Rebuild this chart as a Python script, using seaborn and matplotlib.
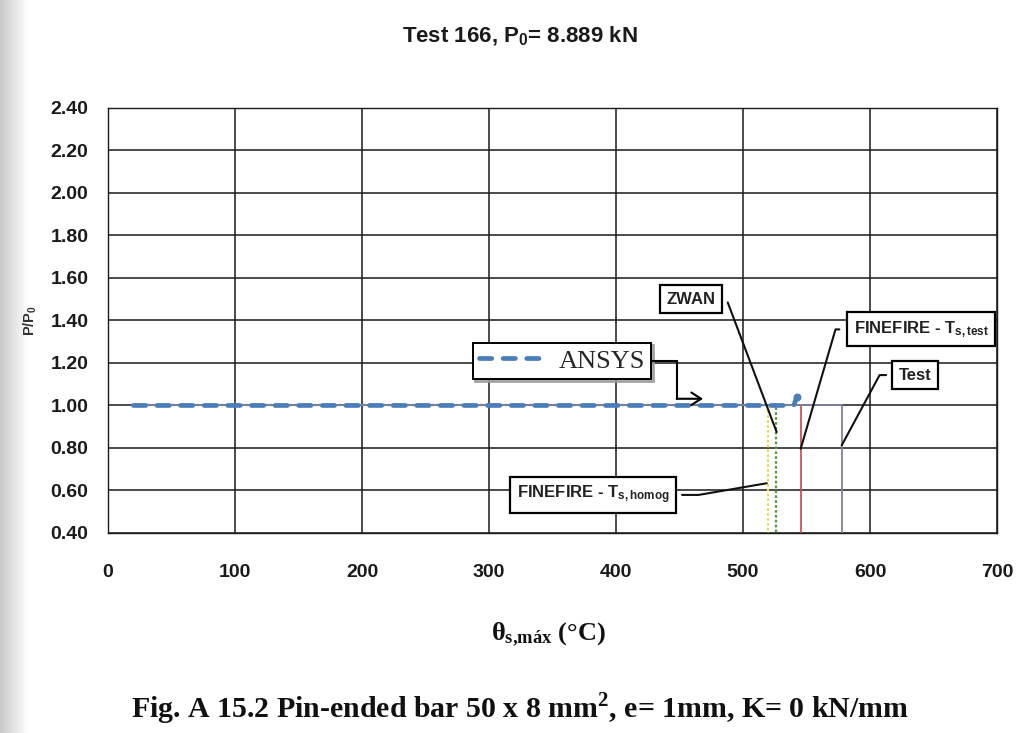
import numpy as np
import matplotlib
matplotlib.use("Agg")
import matplotlib.pyplot as plt
import seaborn as sns

# Load ratio P/P0 against maximum steel temperature (°C) for each method
temp_ansys = [20, 540, 542.3]
ratio_ansys = [1.0, 1.0, 1.039]

temp_test = [20, 577.7, 577.7]
ratio_test = [1.0, 1.0, 0.4]

temp_ff_test = [20, 545.4, 545.4]
ratio_ff_test = [1.0, 1.0, 0.4]

temp_zwan = [20, 525.8, 525.8]
ratio_zwan = [1.0, 1.0, 0.4]

temp_ff_homog = [20, 519.4, 519.4]
ratio_ff_homog = [1.0, 1.0, 0.4]

x_ticks = [0, 100, 200, 300, 400, 500, 600, 700]
y_ticks = [0.40, 0.60, 0.80, 1.00, 1.20, 1.40, 1.60, 1.80, 2.00, 2.20, 2.40]

sns.set_style("white")
SANS = "Liberation Sans"
SERIF = "Liberation Serif"
plt.rcParams["font.family"] = [SANS, "DejaVu Sans"]
plt.rcParams["font.weight"] = "bold"
plt.rcParams["mathtext.fontset"] = "custom"
plt.rcParams["mathtext.rm"] = f"{SANS}:bold"
plt.rcParams["mathtext.bf"] = f"{SERIF}:bold"
plt.rcParams["mathtext.it"] = f"{SANS}:bold"

fig = plt.figure(figsize=(10.16, 7.33), dpi=100)

# soft grey shading along the left edge of the page
shade = fig.add_axes([0, 0, 0.028, 1], zorder=-5)
grad = np.linspace(0.74, 1.0, 64) ** 0.8
shade.imshow(np.tile(grad, (8, 1)), cmap="gray", vmin=0, vmax=1, aspect="auto",
             extent=[0, 1, 0, 1])
shade.axis("off")

ax = fig.add_axes([0.1063, 0.2729, 0.875, 0.5798])

# thin failure curves first, the test curve over them, ANSYS on top
sns.lineplot(x=temp_ff_homog, y=ratio_ff_homog, sort=False, estimator=None, ax=ax,
             color="#e4dc55", lw=1.6, linestyle=(0, (1.2, 1.0)), zorder=3)
sns.lineplot(x=temp_zwan, y=ratio_zwan, sort=False, estimator=None, ax=ax,
             color="#4f9a45", lw=1.6, linestyle=(0, (1.2, 1.0)), zorder=3)
sns.lineplot(x=temp_ff_test, y=ratio_ff_test, sort=False, estimator=None, ax=ax,
             color="#c8464a", lw=1.2, zorder=3)
sns.lineplot(x=temp_test, y=ratio_test, sort=False, estimator=None, ax=ax,
             color="#7d819c", lw=1.3, zorder=4)
sns.lineplot(x=temp_ansys, y=ratio_ansys, sort=False, estimator=None, ax=ax,
             color="#4a7ebb", lw=3.4, linestyle=(0, (2.6, 2.4)),
             dash_capstyle="round", solid_capstyle="round",
             marker="o", markevery=[2], ms=5, mec="#4a7ebb", label="ANSYS", zorder=5)

ax.set_xlim(0, 700)
ax.set_ylim(0.4, 2.4)
ax.set_xticks(x_ticks)
ax.set_yticks(y_ticks)
ax.set_xticklabels([f"{v:d}" for v in x_ticks])
ax.set_yticklabels([f"{v:.2f}" for v in y_ticks])
ax.tick_params(axis="both", direction="out", length=8, width=1, color="#333333",
               labelsize=14)
ax.tick_params(axis="y", pad=6)
ax.tick_params(axis="x", pad=14)
for lab in ax.get_xticklabels() + ax.get_yticklabels():
    lab.set_fontweight("bold")
    lab.set_color("#1a1a1a")
ax.grid(True, color="#1a1a1a", lw=1.1)
ax.set_axisbelow(True)
for side in ["left", "bottom", "top", "right"]:
    ax.spines[side].set_visible(True)
    ax.spines[side].set_color("#1a1a1a")
    ax.spines[side].set_linewidth(1.0)

ax.set_ylabel("P/P$_{\\mathrm{0}}$", fontsize=10.5, fontweight="bold", color="#333333",
              labelpad=8)

fig.text(0.512, 0.951, "Test 166, P$_{\\mathrm{0}}$= 8.889 kN", ha="center", va="center",
         fontsize=16, fontweight="bold", color="#1a1a1a")
fig.text(0.54, 0.134, r"$\mathbf{θ_{s{,}máx}}$ (°C)", ha="center", va="center",
         fontsize=19, fontweight="bold", family=SERIF, color="#111111")
fig.text(0.512, 0.034, "Fig. A 15.2 Pin-ended bar 50 x 8 mm$^{\\mathbf{2}}$, e= 1mm, K= 0 kN/mm",
         ha="center", va="center", fontsize=21.5, fontweight="bold", family=SERIF,
         color="#111111")

# ANSYS key box with a bent pointer onto the curve
leg = ax.legend(loc="center", bbox_to_anchor=(0.5107, 0.4047), frameon=True,
                fancybox=False, shadow={"color": "#9a9a9a", "alpha": 0.8},
                framealpha=1, edgecolor="black", handlelength=2.5, handletextpad=0.5,
                borderpad=0.25, borderaxespad=0,
                prop={"family": SERIF, "size": 19, "weight": "normal"})
leg.get_frame().set_linewidth(1.4)
for h in leg.legend_handles:
    h.set_marker("")

pointer_x = [428.3, 447.8, 447.8]
pointer_y = [1.2085, 1.2085, 1.0315]
ax.plot(pointer_x, pointer_y, color="black", lw=1.5, zorder=6,
        solid_joinstyle="miter")
ax.annotate("", xy=(468.5, 1.0315), xytext=(pointer_x[-1], pointer_y[-1]),
            arrowprops=dict(arrowstyle="->,head_length=0.7,head_width=0.45", lw=1.5,
                            color="black", shrinkA=0, shrinkB=0),
            zorder=6)

box = dict(boxstyle="square,pad=0.4", fc="white", ec="black", lw=1.6)
labels = [
    ("ZWAN", (526.5, 0.875), (459.0, 1.501), (1, 0.5), 0, 11, 4.3),
    ("FINEFIRE - T$_{\\mathrm{s,test}}$", (545.4, 0.796), (640.2, 1.358), (0, 0.5), 180, 18, 4.8),
    ("Test", (577.7, 0.812), (635.4, 1.143), (0, 0.5), 180, 19, 3.6),
    ("FINEFIRE - T$_{\\mathrm{s,homog}}$", (518.7, 0.634), (382.1, 0.579), (1, 0.5), 0, 29, 3.6),
]
for text, target, center, rel, ang, arm, gap in labels:
    ax.annotate(text, xy=target, xytext=center, ha="center", va="center",
                fontsize=12, fontweight="bold", color="#222222", bbox=box,
                arrowprops=dict(arrowstyle="-", lw=1.5, color="#111111",
                                relpos=rel, shrinkA=gap, shrinkB=0,
                                connectionstyle=f"arc,angleA={ang},armA={arm},armB=0,rad=0"),
                zorder=6)

fig.savefig("out.png", dpi=100, facecolor="white")
